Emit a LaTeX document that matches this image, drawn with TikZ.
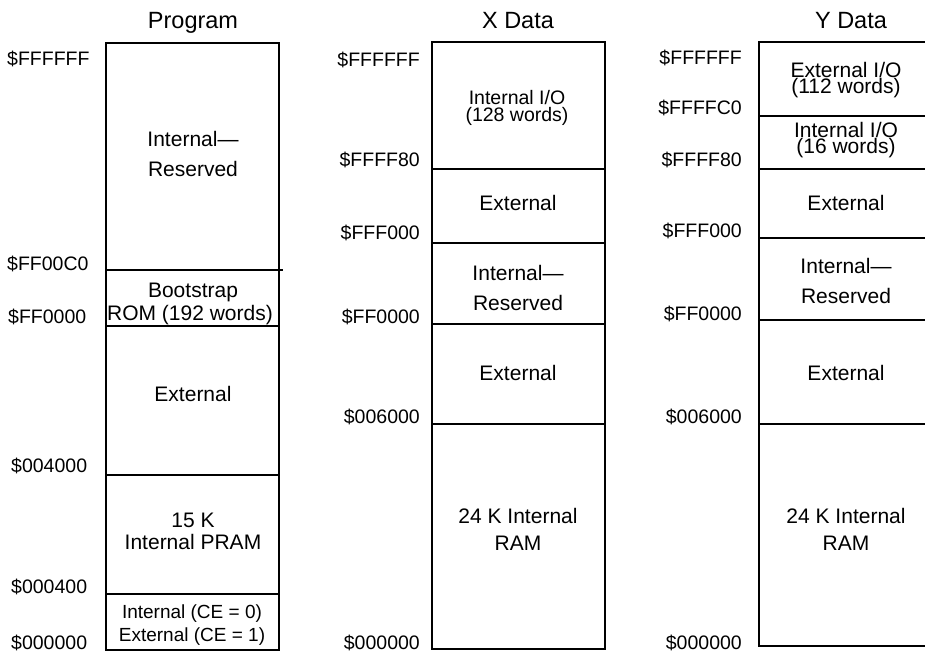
\documentclass[tikz,border=0pt]{standalone}
\usepackage{fontspec}
\setmainfont{Liberation Sans}
\begin{document}
\begin{tikzpicture}[x=1pt,y=-1pt,
  boxline/.style={line width=2pt},
  regtext/.style={font=\fontsize{21}{21}\selectfont, anchor=base, inner sep=0pt},
  smalltext/.style={font=\fontsize{19}{19}\selectfont, anchor=base, inner sep=0pt},
  iotext/.style={align=center, anchor=center, inner sep=0pt},
  addrR/.style={font=\fontsize{19.5}{19.5}\selectfont, anchor=base east, inner sep=0pt},
  addrL/.style={font=\fontsize{19.5}{19.5}\selectfont, anchor=base west, inner sep=0pt},
  ttl/.style={font=\fontsize{23.5}{23.5}\selectfont, anchor=base, inner sep=0pt}]
\useasboundingbox (0,0) rectangle (925,652);
% ---------- Program ----------
\node[ttl] (tp) at (193,29) {Program};
\draw[boxline] (106,43) rectangle (279,650);
\draw[boxline] (106,270) -- (283,270);
\draw[boxline] (106,326) -- (279,326);
\draw[boxline] (106,475) -- (279,475);
\draw[boxline] (106,594) -- (279,594);
\node[regtext] (p1a) at (193,147) {Internal—};
\node[regtext] (p1b) at (193,177) {Reserved};
\node[regtext] (p2a) at (193,297) {Bootstrap};
\node[regtext] (p2b) at (190,320) {ROM (192 words)};
\node[regtext] (p3) at (193,401) {External};
\node[regtext] (p4a) at (193,527) {15 K};
\node[regtext] (p4b) at (193,549) {Internal PRAM};
\node[smalltext] (p5a) at (192,618) {Internal (CE = 0)};
\node[smalltext] (p5b) at (192,641) {External (CE = 1)};
\node[addrL] (pa1) at (7,66) {\$FFFFFF};
\node[addrL] (pa2) at (7,270) {\$FF00C0};
\node[addrL] (pa3) at (8,323) {\$FF0000};
\node[addrL] (pa4) at (11,472) {\$004000};
\node[addrL] (pa5) at (11,593) {\$000400};
\node[addrL] (pa6) at (11,649) {\$000000};
% ---------- X Data ----------
\node[ttl] (tx) at (518,29) {X Data};
\draw[boxline] (432,42) rectangle (605,649);
\draw[boxline] (432,169) -- (605,169);
\draw[boxline] (432,243) -- (605,243);
\draw[boxline] (432,324) -- (605,324);
\draw[boxline] (432,424) -- (605,424);
\node[iotext, font=\fontsize{19.5}{17}\selectfont] (x1) at (517,108) {Internal I/O\\(128 words)};
\node[regtext] (x2) at (518,211) {External};
\node[regtext] (x3a) at (518,280) {Internal—};
\node[regtext] (x3b) at (518,310) {Reserved};
\node[regtext] (x4) at (518,380) {External};
\node[regtext] (x5a) at (518,523) {24 K Internal};
\node[regtext] (x5b) at (518,550) {RAM};
\node[addrR] (xa1) at (420,67) {\$FFFFFF};
\node[addrR] (xa2) at (420,167) {\$FFFF80};
\node[addrR] (xa3) at (420,240) {\$FFF000};
\node[addrR] (xa4) at (420,323) {\$FF0000};
\node[addrR] (xa5) at (420,423) {\$006000};
\node[addrR] (xa6) at (420,649) {\$000000};
% ---------- Y Data ----------
\node[ttl] (ty) at (851,29) {Y Data};
\draw[boxline] (927,42) -- (759,42) -- (759,646) -- (927,646);
\draw[boxline] (759,116) -- (927,116);
\draw[boxline] (759,169) -- (927,169);
\draw[boxline] (759,238) -- (927,238);
\draw[boxline] (759,320) -- (927,320);
\draw[boxline] (759,424) -- (927,424);
\node[iotext, font=\fontsize{21}{16}\selectfont] (y1) at (846,80) {External I/O\\(112 words)};
\node[iotext, font=\fontsize{21}{16}\selectfont] (y2) at (846,140) {Internal I/O\\(16 words)};
\node[regtext] (y3) at (846,211) {External};
\node[regtext] (y4a) at (846,273) {Internal—};
\node[regtext] (y4b) at (846,303) {Reserved};
\node[regtext] (y5) at (846,380) {External};
\node[regtext] (y6a) at (846,523) {24 K Internal};
\node[regtext] (y6b) at (846,550) {RAM};
\node[addrR] (ya1) at (742,65) {\$FFFFFF};
\node[addrR] (ya2) at (742,115) {\$FFFFC0};
\node[addrR] (ya3) at (742,167) {\$FFFF80};
\node[addrR] (ya4) at (742,237) {\$FFF000};
\node[addrR] (ya5) at (742,320) {\$FF0000};
\node[addrR] (ya6) at (742,423) {\$006000};
\node[addrR] (ya7) at (742,649) {\$000000};
\end{tikzpicture}
\end{document}
